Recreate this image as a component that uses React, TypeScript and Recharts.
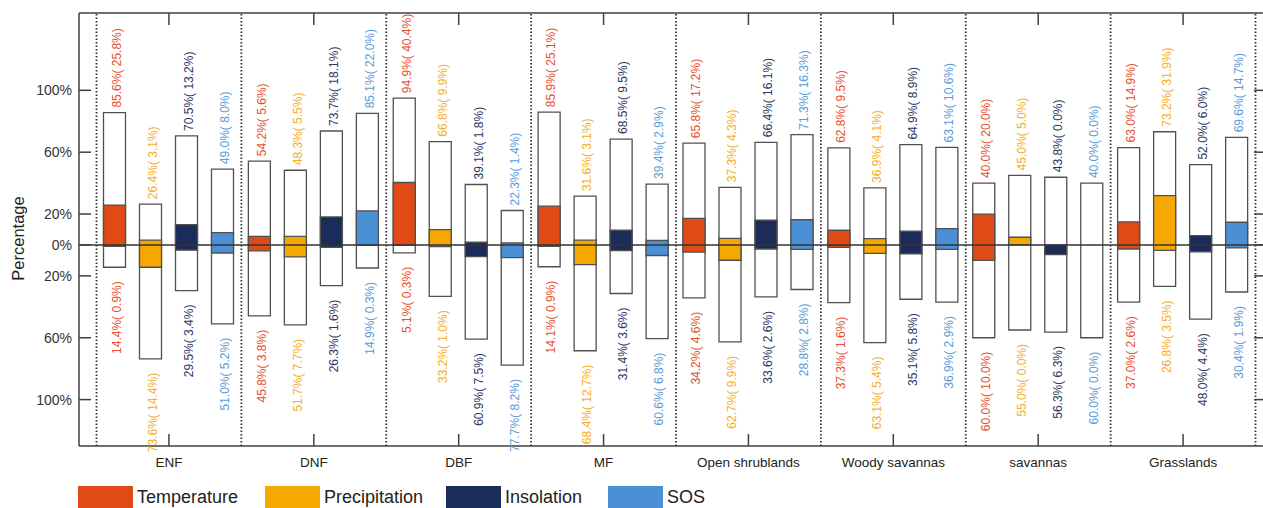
import { BarChart, Bar, XAxis, YAxis, ReferenceLine, Label, Customized } from "recharts";

if (typeof document !== "undefined") document.body.style.margin = "0";

const categories = ["ENF", "DNF", "DBF", "MF", "Open shrublands", "Woody savannas", "savannas", "Grasslands"];
const drivers = ["Temperature", "Precipitation", "Insolation", "SOS"];
const fillColors = ["#e04a14", "#f5a800", "#1c2c5a", "#4b90d4"];
const textColors = ["#e8502e", "#f5ae26", "#2b3866", "#5b9bd8"];
const yTicks = [-100, -60, -20, 0, 20, 60, 100];
const separators = [-0.5, 0.5, 1.5, 2.5, 3.5, 4.5, 5.5, 6.5, 7.5];

// share of pixels with positive / negative trend, and (significant) share
const tempPos = [85.6, 54.2, 94.9, 85.9, 65.8, 62.8, 40.0, 63.0];
const tempPosSig = [25.8, 5.6, 40.4, 25.1, 17.2, 9.5, 20.0, 14.9];
const tempNeg = [14.4, 45.8, 5.1, 14.1, 34.2, 37.3, 60.0, 37.0];
const tempNegSig = [0.9, 3.8, 0.3, 0.9, 4.6, 1.6, 10.0, 2.6];

const precPos = [26.4, 48.3, 66.8, 31.6, 37.3, 36.9, 45.0, 73.2];
const precPosSig = [3.1, 5.5, 9.9, 3.1, 4.3, 4.1, 5.0, 31.9];
const precNeg = [73.6, 51.7, 33.2, 68.4, 62.7, 63.1, 55.0, 26.8];
const precNegSig = [14.4, 7.7, 1.0, 12.7, 9.9, 5.4, 0.0, 3.5];

const insoPos = [70.5, 73.7, 39.1, 68.5, 66.4, 64.9, 43.8, 52.0];
const insoPosSig = [13.2, 18.1, 1.8, 9.5, 16.1, 8.9, 0.0, 6.0];
const insoNeg = [29.5, 26.3, 60.9, 31.4, 33.6, 35.1, 56.3, 48.0];
const insoNegSig = [3.4, 1.6, 7.5, 3.6, 2.6, 5.8, 6.3, 4.4];

const sosPos = [49.0, 85.1, 22.3, 39.4, 71.3, 63.1, 40.0, 69.6];
const sosPosSig = [8.0, 22.0, 1.4, 2.9, 16.3, 10.6, 0.0, 14.7];
const sosNeg = [51.0, 14.9, 77.7, 60.6, 28.8, 36.9, 60.0, 30.4];
const sosNegSig = [5.2, 0.3, 8.2, 6.8, 2.8, 2.9, 0.0, 1.9];

const posTotals = [tempPos, precPos, insoPos, sosPos];
const posSigs = [tempPosSig, precPosSig, insoPosSig, sosPosSig];
const negTotals = [tempNeg, precNeg, insoNeg, sosNeg];
const negSigs = [tempNegSig, precNegSig, insoNegSig, sosNegSig];

const data = categories.map((name, i) => {
  const row: any = { name, idx: i };
  drivers.forEach((_, d) => {
    row[`box${d}`] = [-negTotals[d][i], posTotals[d][i]];
    row[`sig${d}`] = [-negSigs[d][i], posSigs[d][i]];
  });
  return row;
});

const FONT = '"Liberation Sans", Arial, sans-serif';
const AXIS = "#404040";
const EDGE = "#505050";
const TICK = 12;
const legendX = [78, 265, 446, 608];

// layout
const W = 1263;
const H = 508;
const MARGIN = { top: 12, right: -4, bottom: 0, left: 0 };
const Y_AXIS_W = 79;
const X_AXIS_H = 62;
const Y_MIN = -130;
const Y_MAX = 150;
const pad = { left: 17.5, right: 10.5 };
const PLOT_W = W - MARGIN.left - MARGIN.right - Y_AXIS_W - 1;
const PLOT_H = H - MARGIN.top - 1 - X_AXIS_H;
const BAND = (PLOT_W - pad.left - pad.right) / categories.length;
const X_LO = -0.5 - pad.left / BAND;
const X_HI = categories.length - 0.5 + pad.right / BAND;
const tickY = (TICK * (Y_MAX - Y_MIN)) / PLOT_H;
const tickX = TICK / BAND;

const fmt = (t: number, s: number) => `${t.toFixed(1)}%( ${s.toFixed(1)}%)`;

function valueLabel(p: any, d: number) {
  const vb = p.viewBox ?? p;
  const i = p.index;
  if (i == null || vb == null) return null;
  const top = Math.min(vb.y, vb.y + vb.height);
  const bottom = Math.max(vb.y, vb.y + vb.height);
  const bx = vb.x + vb.width / 2 + 6.3;
  const ty = top - 5;
  const by = bottom + 14;
  return (
    <g key={`lab-${d}-${i}`} fontFamily={FONT} fontSize={12} fill={textColors[d]}>
      <text x={bx} y={ty} textAnchor="start" transform={`rotate(-90, ${bx}, ${ty})`}>
        {fmt(posTotals[d][i], posSigs[d][i])}
      </text>
      <text x={bx} y={by} textAnchor="end" transform={`rotate(-90, ${bx}, ${by})`}>
        {fmt(negTotals[d][i], negSigs[d][i])}
      </text>
    </g>
  );
}

const LeftTick = ({ x, y, payload }: any) => (
  <text x={x - 7} y={y} dy="0.35em" textAnchor="end" fontFamily={FONT} fontSize={14} fill="#333">
    {`${Math.abs(payload.value)}%`}
  </text>
);

const BottomTick = ({ x, y, payload }: any) => (
  <text x={x} y={y + 21} textAnchor="middle" fontFamily={FONT} fontSize={13.5} fill="#222">
    {payload.value}
  </text>
);

const LegendSvg = () => (
  <g fontFamily={FONT} fontSize={18} fill="#222">
    {drivers.map((name, d) => (
      <g key={name}>
        <rect x={legendX[d]} y={486} width={55} height={24} fill={fillColors[d]} />
        <text x={legendX[d] + 59} y={503}>
          {name}
        </text>
      </g>
    ))}
  </g>
);

const frame = { stroke: AXIS, strokeWidth: 1.5 };

export default function App() {
  return (
    <div style={{ position: "relative", width: W, height: H, background: "#fff" }}>
      <BarChart width={W} height={H} data={data} margin={MARGIN} barSize={22} barGap={14}>
        <XAxis
          xAxisId="a"
          dataKey="name"
          orientation="bottom"
          height={X_AXIS_H}
          padding={pad}
          axisLine={frame}
          tickLine={false}
          tickSize={0}
          tickMargin={0}
          interval={0}
          tick={<BottomTick />}
        />
        <XAxis
          xAxisId="top"
          dataKey="name"
          orientation="top"
          height={1}
          padding={pad}
          axisLine={frame}
          tickLine={false}
          interval={0}
          tick={false}
        />
        <XAxis xAxisId="num" type="number" dataKey="idx" domain={[X_LO, X_HI]} allowDataOverflow hide />
        <YAxis
          yAxisId="l"
          type="number"
          domain={[Y_MIN, Y_MAX]}
          ticks={yTicks}
          width={Y_AXIS_W}
          axisLine={frame}
          tickLine={false}
          tickSize={0}
          tickMargin={0}
          interval={0}
          tick={<LeftTick />}
        >
          <Label
            content={({ viewBox }: any) => {
              const x = viewBox.x + 24;
              const y = viewBox.y + viewBox.height / 2 + 9;
              return (
                <text x={x} y={y} textAnchor="middle" transform={`rotate(-90, ${x}, ${y})`} fontFamily={FONT} fontSize={16.5} fill="#222">
                  Percentage
                </text>
              );
            }}
          />
        </YAxis>
        <YAxis
          yAxisId="r"
          orientation="right"
          type="number"
          domain={[Y_MIN, Y_MAX]}
          ticks={yTicks}
          width={1}
          axisLine={frame}
          tickLine={false}
          tick={false}
        />
        {separators.map((v) => (
          <ReferenceLine
            key={`sep${v}`}
            xAxisId="num"
            yAxisId="l"
            x={v}
            stroke="#333"
            strokeWidth={1.8}
            strokeDasharray="1.5 2"
          />
        ))}
        {drivers.map((name, d) => (
          <Bar
            key={`box${d}`}
            xAxisId="a"
            yAxisId="l"
            dataKey={`box${d}`}
            name={name}
            fill="#fff"
            stroke={EDGE}
            strokeWidth={1.3}
            isAnimationActive={false}
            label={(p: any) => valueLabel(p, d)}
          />
        ))}
        {drivers.map((name, d) => (
          <Bar
            key={`sig${d}`}
            xAxisId="top"
            yAxisId="l"
            dataKey={`sig${d}`}
            name={`${name} sig`}
            fill={fillColors[d]}
            stroke={EDGE}
            strokeWidth={1.3}
            isAnimationActive={false}
          />
        ))}
        <ReferenceLine xAxisId="a" yAxisId="l" y={0} stroke="#333" strokeWidth={1.5} />
        {/* inward tick marks on all four sides of the frame */}
        {categories.map((c) => (
          <ReferenceLine
            key={`tt-${c}`}
            xAxisId="a"
            yAxisId="l"
            segment={[{ x: c, y: Y_MAX }, { x: c, y: Y_MAX - tickY }]}
            stroke={AXIS}
            strokeWidth={1.5}
          />
        ))}
        {categories.map((c) => (
          <ReferenceLine
            key={`bt-${c}`}
            xAxisId="a"
            yAxisId="l"
            segment={[{ x: c, y: Y_MIN }, { x: c, y: Y_MIN + tickY }]}
            stroke={AXIS}
            strokeWidth={1.5}
          />
        ))}
        {yTicks.map((v) => (
          <ReferenceLine
            key={`lt-${v}`}
            xAxisId="num"
            yAxisId="l"
            segment={[{ x: X_LO, y: v }, { x: X_LO + tickX, y: v }]}
            stroke={AXIS}
            strokeWidth={1.5}
          />
        ))}
        {yTicks.map((v) => (
          <ReferenceLine
            key={`rt-${v}`}
            xAxisId="num"
            yAxisId="l"
            segment={[{ x: X_HI - tickX, y: v }, { x: X_HI, y: v }]}
            stroke={AXIS}
            strokeWidth={1.5}
          />
        ))}
        <Customized component={<LegendSvg />} />
      </BarChart>
    </div>
  );
}
